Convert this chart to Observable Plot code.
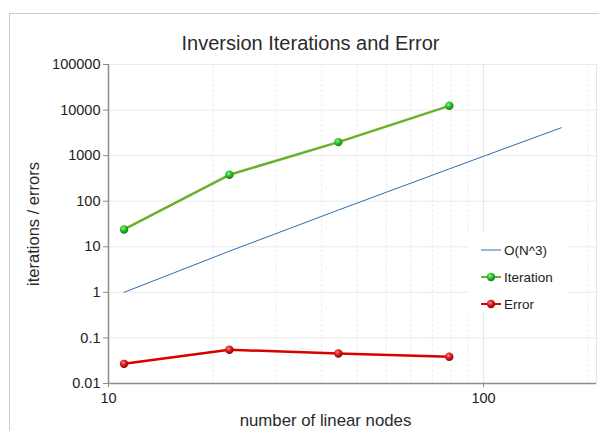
<!DOCTYPE html>
<html>
<head>
<meta charset="utf-8">
<script src="https://cdn.jsdelivr.net/npm/d3@7"></script>
<script src="https://cdn.jsdelivr.net/npm/@observablehq/plot@0.6"></script>
<style>
  html, body { margin: 0; padding: 0; background: #fff; overflow: hidden; }
  body { width: 599px; height: 431px; position: relative; font-family: "Liberation Sans", Arial, sans-serif; }
  #frame { position: absolute; left: 9px; top: 13px; width: 640px; height: 480px; border: 1px solid #cccccc; }
  #chart { position: absolute; left: 0; top: 0; }
  #legend { position: absolute; left: 468px; top: 232px; width: 101px; height: 81px; background: #fff; }
  .item { position: absolute; left: 13px; height: 16px; display: flex; align-items: center; font-size: 13.5px; color: #222; }
  .item svg { margin-right: 3px; }
</style>
</head>
<body>
<div id="frame"></div>
<div id="chart"></div>
<div id="legend"></div>
<script>
// Number of linear nodes per run
const nodes = [11, 21, 41, 81];
// Iterations needed by the inversion
const iterations = [24, 380, 1980, 12400];
// Final error of the inversion
const errors = [0.027, 0.055, 0.0455, 0.0385];
// Reference cubic growth curve
const cubicNodes = [11, 21, 41, 81, 161];
const cubicValues = [1, 8, 64, 512, 4096];

// Axis ticks
const yTicks = [0.01, 0.1, 1, 10, 100, 1000, 10000, 100000];
const yTickLabels = ["0.01", "0.1", "1", "10", "100", "1000", "10000", "100000"];
const xTicks = [10, 100];
const xTickLabels = ["10", "100"];
const xMinorGrid = [19, 28, 37, 46, 55, 64, 73, 82, 91, 190];

const iterRows = nodes.map((n, i) => ({n, v: iterations[i]}));
const errRows = nodes.map((n, i) => ({n, v: errors[i]}));
const cubicRows = cubicNodes.map((n, i) => ({n, v: cubicValues[i]}));

const GREEN = "#6ab02a";
const RED = "#d90000";
const BLUE = "#2a6fb0";
const AXIS = "#8c8c8c";

const chart = Plot.plot({
  width: 599,
  height: 431,
  marginLeft: 108,
  marginTop: 64,
  marginRight: 3,
  marginBottom: 48,
  style: {fontFamily: "'Liberation Sans', Arial, sans-serif", background: "transparent", overflow: "visible"},
  x: {type: "log", domain: [10, 200]},
  y: {type: "log", domain: [0.01, 100000]},
  marks: [
    // grid
    Plot.ruleX(xMinorGrid, {stroke: "#ececec", strokeDasharray: "3,2", strokeWidth: 1}),
    Plot.ruleX([100, 200], {stroke: "#e6e6e6", strokeWidth: 1}),
    Plot.ruleY(yTicks, {stroke: "#eaeaea", strokeWidth: 1}),
    // axes
    Plot.axisY({ticks: yTicks, tickFormat: d => yTickLabels[yTicks.indexOf(d)], tickSize: 5, tickPadding: 3,
      stroke: AXIS, fontSize: 14.5, color: "#222", label: null}),
    Plot.axisX({ticks: xTicks, tickFormat: d => xTickLabels[xTicks.indexOf(d)], tickSize: 4, tickPadding: 5,
      stroke: AXIS, fontSize: 14.5, color: "#222", label: null}),
    Plot.ruleX([10], {stroke: AXIS, strokeWidth: 1.5}),
    Plot.ruleY([0.01], {stroke: AXIS, strokeWidth: 1.5}),
    // series
    Plot.line(cubicRows, {x: "n", y: "v", stroke: BLUE, strokeWidth: 1}),
    Plot.line(iterRows, {x: "n", y: "v", stroke: GREEN, strokeWidth: 2.5}),
    Plot.dot(iterRows, {x: "n", y: "v", r: 4.2, fill: "url(#ballGreen)", stroke: null}),
    Plot.line(errRows, {x: "n", y: "v", stroke: RED, strokeWidth: 2.5}),
    Plot.dot(errRows, {x: "n", y: "v", r: 4.2, fill: "url(#ballRed)", stroke: null}),
    // titles
    Plot.text(["Inversion Iterations and Error"], {frameAnchor: "top", textAnchor: "middle", lineAnchor: "middle",
      dx: -42, dy: -21, fontSize: 20, fill: "#2a2a2a"}),
    Plot.text(["number of linear nodes"], {frameAnchor: "bottom", textAnchor: "middle", lineAnchor: "middle",
      dx: -27, dy: 37, fontSize: 16.8, fill: "#2a2a2a"}),
    Plot.text(["iterations / errors"], {frameAnchor: "left", textAnchor: "middle", lineAnchor: "middle",
      dx: -75, dy: 0, rotate: -90, fontSize: 16.5, fill: "#2a2a2a"})
  ]
});

const gradDefs = `
  <radialGradient id="ballGreen" cx="0.4" cy="0.35" r="0.65">
    <stop offset="0" stop-color="#8af58a"/>
    <stop offset="0.45" stop-color="#2fc52f"/>
    <stop offset="1" stop-color="#0d7a14"/>
  </radialGradient>
  <radialGradient id="ballRed" cx="0.4" cy="0.35" r="0.65">
    <stop offset="0" stop-color="#ff8a8a"/>
    <stop offset="0.45" stop-color="#e02020"/>
    <stop offset="1" stop-color="#8a0000"/>
  </radialGradient>`;
d3.select(chart).insert("defs", ":first-child").html(gradDefs);
document.getElementById("chart").appendChild(chart);

// legend
const legendItems = [
  {label: "O(N^3)", color: BLUE, width: 1, ball: null},
  {label: "Iteration", color: GREEN, width: 2, ball: "legGreen"},
  {label: "Error", color: RED, width: 2, ball: "legRed"}
];
const legend = document.getElementById("legend");
legendItems.forEach((it, i) => {
  const div = document.createElement("div");
  div.className = "item";
  div.style.top = (10 + i * 27) + "px";
  const ballSvg = it.ball ? `<defs><radialGradient id="${it.ball}" cx="0.4" cy="0.35" r="0.65">
      <stop offset="0" stop-color="${it.ball === "legGreen" ? "#8af58a" : "#ff8a8a"}"/>
      <stop offset="0.45" stop-color="${it.ball === "legGreen" ? "#2fc52f" : "#e02020"}"/>
      <stop offset="1" stop-color="${it.ball === "legGreen" ? "#0d7a14" : "#8a0000"}"/>
    </radialGradient></defs><circle cx="10" cy="8" r="4.2" fill="url(#${it.ball})"/>` : "";
  div.innerHTML = `<svg width="20" height="16"><line x1="0" x2="20" y1="8" y2="8" stroke="${it.color}" stroke-width="${it.width}"/>${ballSvg}</svg><span>${it.label}</span>`;
  legend.appendChild(div);
});
</script>
</body>
</html>
